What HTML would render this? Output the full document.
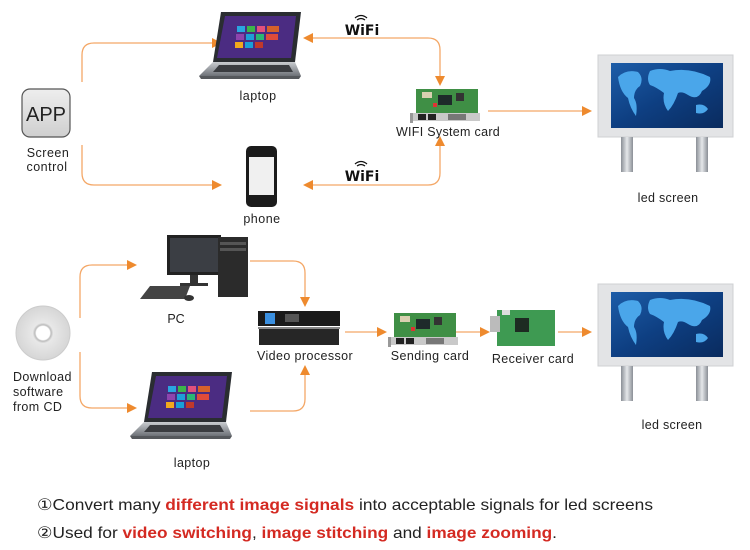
<!DOCTYPE html>
<html><head><meta charset="utf-8"><style>
html,body{margin:0;padding:0;background:#fff;}
svg{display:block;font-family:"Liberation Sans",Arial,sans-serif;}
</style></head><body>
<svg width="750" height="550" viewBox="0 0 750 550" xmlns="http://www.w3.org/2000/svg">
<defs>
<linearGradient id="scr" x1="0" y1="0" x2="1" y2="1"><stop offset="0" stop-color="#1d5da8"/><stop offset="0.5" stop-color="#0e3f82"/><stop offset="1" stop-color="#0a2b5e"/></linearGradient>
<linearGradient id="leg" x1="0" x2="1"><stop offset="0" stop-color="#8a8f96"/><stop offset="0.5" stop-color="#e5e7ea"/><stop offset="1" stop-color="#8a8f96"/></linearGradient>
<linearGradient id="app" x1="0" y1="0" x2="0" y2="1"><stop offset="0" stop-color="#eeeeee"/><stop offset="1" stop-color="#cfcfcf"/></linearGradient>
<linearGradient id="lap" x1="0" y1="0" x2="0" y2="1"><stop offset="0" stop-color="#c9ccd0"/><stop offset="1" stop-color="#6d7177"/></linearGradient>
<radialGradient id="cd"><stop offset="0.25" stop-color="#fff"/><stop offset="0.3" stop-color="#bbb"/><stop offset="0.38" stop-color="#e8e8e8"/><stop offset="1" stop-color="#d6d6d6"/></radialGradient>
<g id="ah"><path d="M0,-5 L10,0 L0,5Z" fill="#ee8a2e"/></g>
<g id="laptop">
 <path d="M22,0 L102,0 L96,50 L14,50Z" fill="#2a2d31"/>
 <path d="M26,4 L97,4 L92,46 L18,46Z" fill="#4b2c82"/>
 <rect x="38" y="14" width="8" height="6" fill="#2aa5e0"/><rect x="48" y="14" width="8" height="6" fill="#3cb54a"/><rect x="58" y="14" width="8" height="6" fill="#e2507c"/><rect x="68" y="14" width="12" height="6" fill="#d6612a"/>
 <rect x="37" y="22" width="8" height="6" fill="#8e44ad"/><rect x="47" y="22" width="8" height="6" fill="#1e9fd8"/><rect x="57" y="22" width="8" height="6" fill="#2bb673"/><rect x="67" y="22" width="12" height="6" fill="#e04b3a"/>
 <rect x="36" y="30" width="8" height="6" fill="#f2a81d"/><rect x="46" y="30" width="8" height="6" fill="#19a0d8"/><rect x="56" y="30" width="8" height="6" fill="#c0392b"/>
 <path d="M14,50 L96,50 L102,64 L0,64Z" fill="url(#lap)"/>
 <path d="M20,53 L90,53 L94,60 L14,60Z" fill="#3a3c40"/>
 <path d="M0,64 L102,64 L100,67 L2,67Z" fill="#55585c"/>
</g>
<g id="card">
 <rect x="8" y="0" width="62" height="24" fill="#3f8f45"/>
 <rect x="30" y="6" width="14" height="10" fill="#1e2a2a"/><rect x="48" y="4" width="8" height="8" fill="#333"/>
 <rect x="14" y="3" width="10" height="6" fill="#d9d0b0"/><rect x="25" y="14" width="4" height="4" fill="#d33"/>
 <rect x="4" y="24" width="68" height="8" fill="#c9c9c9"/>
 <rect x="10" y="25" width="8" height="6" fill="#222"/><rect x="20" y="25" width="8" height="6" fill="#222"/><rect x="40" y="25" width="18" height="6" fill="#777"/>
 <rect x="2" y="24" width="3" height="10" fill="#999"/>
</g>
<g id="led">
 <rect x="0" y="0" width="135" height="82" fill="#e3e4e6" stroke="#cfd0d3"/>
 <rect x="13" y="8" width="112" height="65" fill="url(#scr)"/>
 <path d="M20,22 q8,-8 20,-5 q6,6 2,14 q-6,4 -6,12 q4,6 2,18 q-6,-8 -8,-18 q-8,-6 -10,-21Z M52,16 q10,-4 20,0 q20,-4 40,6 q2,8 -8,14 q-4,10 -14,4 q-6,-4 -10,-2 q-4,12 -10,18 q-6,-8 -4,-18 q-8,-6 -14,-8 q-4,-6 0,-14Z M98,50 q8,-2 12,4 q-4,6 -12,4Z" fill="#4aa6ea"/>
 <rect x="23" y="82" width="12" height="35" fill="url(#leg)"/>
 <rect x="98" y="82" width="12" height="35" fill="url(#leg)"/>
</g>
</defs>

<g fill="none" stroke="#f4a868" stroke-width="1.3">
 <path d="M82,82 V55 Q82,43 94,43 H212"/>
 <path d="M82,145 V173 Q82,185 94,185 H212"/>
 <path d="M313,38 H428 Q440,38 440,50 V76"/>
 <path d="M313,185 H428 Q440,185 440,173 V146"/>
 <path d="M488,111 H582"/>
 <path d="M80,318 V277 Q80,265 92,265 H127"/>
 <path d="M80,352 V396 Q80,408 92,408 H127"/>
 <path d="M250,261 H293 Q305,261 305,273 V297"/>
 <path d="M250,411 H293 Q305,411 305,399 V375"/>
 <path d="M345,332 H377"/>
 <path d="M453,332 H480"/>
 <path d="M558,332 H582"/>
</g>
<use href="#ah" x="212" y="43"/>
<use href="#ah" x="212" y="185"/>
<use href="#ah" transform="translate(313,38) rotate(180)"/>
<use href="#ah" transform="translate(313,185) rotate(180)"/>
<use href="#ah" transform="translate(440,76) rotate(90)"/>
<use href="#ah" transform="translate(440,146) rotate(-90)"/>
<use href="#ah" x="582" y="111"/>
<use href="#ah" x="127" y="265"/>
<use href="#ah" x="127" y="408"/>
<use href="#ah" transform="translate(305,297) rotate(90)"/>
<use href="#ah" transform="translate(305,375) rotate(-90)"/>
<use href="#ah" x="377" y="332"/>
<use href="#ah" x="480" y="332"/>
<use href="#ah" x="582" y="332"/>

<!-- APP -->
<rect x="22" y="89" width="48" height="48" rx="8" fill="url(#app)" stroke="#555" stroke-width="1.2"/>
<text x="46" y="121" font-size="20" text-anchor="middle" fill="#222">APP</text>
<text x="48" y="157" font-size="12.5" text-anchor="middle" fill="#222" letter-spacing="0.5">Screen</text>
<text x="47" y="171" font-size="12.5" text-anchor="middle" fill="#222" letter-spacing="0.5">control</text>

<use href="#laptop" x="199" y="12"/>
<text x="258" y="100" font-size="12.5" text-anchor="middle" fill="#222" letter-spacing="0.5">laptop</text>

<!-- phone -->
<rect x="246" y="146" width="31" height="61" rx="5" fill="#1b1b1b"/>
<rect x="249" y="157" width="25" height="38" fill="#f0f0f0"/>
<text x="262" y="223" font-size="12.5" text-anchor="middle" fill="#222" letter-spacing="0.5">phone</text>

<!-- wifi -->
<g fill="#111">
<text x="362" y="35" font-size="14" font-weight="bold" text-anchor="middle" font-family="'DejaVu Sans',sans-serif">WiFi</text>
<text x="362" y="181" font-size="14" font-weight="bold" text-anchor="middle" font-family="'DejaVu Sans',sans-serif">WiFi</text>
</g>
<g fill="none" stroke="#111" stroke-width="1.3">
<path d="M355,18 q6,-5 12,0 M357,20 q4,-3 8,0"/>
<path d="M355,164 q6,-5 12,0 M357,166 q4,-3 8,0"/>
</g>

<use href="#card" x="408" y="89"/>
<text x="448" y="136" font-size="12.5" text-anchor="middle" fill="#222" letter-spacing="0.3">WIFI System card</text>

<use href="#led" x="598" y="55"/>
<text x="668" y="202" font-size="12.5" text-anchor="middle" fill="#222" letter-spacing="0.3">led screen</text>

<!-- CD -->
<circle cx="43" cy="333" r="27" fill="url(#cd)" stroke="#ccc"/>
<circle cx="43" cy="333" r="6" fill="#fff"/>
<text x="13" y="381" font-size="12.5" fill="#222" letter-spacing="0.4">Download</text>
<text x="13" y="396" font-size="12.5" fill="#222" letter-spacing="0.4">software</text>
<text x="13" y="411" font-size="12.5" fill="#222" letter-spacing="0.4">from CD</text>

<!-- PC -->
<rect x="167" y="235" width="54" height="40" fill="#222"/>
<rect x="170" y="238" width="48" height="34" fill="#3b3e44"/>
<rect x="190" y="275" width="8" height="8" fill="#333"/>
<rect x="180" y="283" width="28" height="3" fill="#333"/>
<rect x="218" y="237" width="30" height="60" fill="#2b2b2b"/>
<rect x="220" y="242" width="26" height="3" fill="#555"/><rect x="220" y="248" width="26" height="3" fill="#555"/>
<path d="M150,286 L190,286 L185,299 L140,299Z" fill="#444"/>
<ellipse cx="189" cy="298" rx="5" ry="3" fill="#333"/>
<text x="176" y="323" font-size="12.5" text-anchor="middle" fill="#222">PC</text>

<!-- video processor -->
<rect x="258" y="311" width="82" height="15" fill="#1a1a1a"/>
<rect x="265" y="313" width="10" height="11" fill="#3a8fe0"/>
<rect x="285" y="314" width="14" height="8" fill="#555"/>
<rect x="258" y="327" width="82" height="2" fill="#888"/>
<rect x="259" y="329" width="80" height="16" fill="#262626"/>
<text x="305" y="360" font-size="12.5" text-anchor="middle" fill="#222" letter-spacing="0.4">Video processor</text>

<use href="#laptop" x="130" y="372"/>
<text x="192" y="467" font-size="12.5" text-anchor="middle" fill="#222" letter-spacing="0.4">laptop</text>

<use href="#card" x="386" y="313"/>
<text x="430" y="360" font-size="12.5" text-anchor="middle" fill="#222" letter-spacing="0.4">Sending card</text>

<!-- receiver card -->
<rect x="497" y="310" width="58" height="36" fill="#3e9a52"/>
<rect x="490" y="316" width="10" height="16" fill="#bbb"/>
<rect x="515" y="318" width="14" height="14" fill="#1d2b22"/>
<rect x="502" y="310" width="8" height="5" fill="#ddd"/>
<text x="533" y="363" font-size="12.5" text-anchor="middle" fill="#222" letter-spacing="0.4">Receiver card</text>

<use href="#led" x="598" y="284"/>
<text x="672" y="429" font-size="12.5" text-anchor="middle" fill="#222" letter-spacing="0.3">led screen</text>

<text x="37" y="510" font-size="16" fill="#222" textLength="616" lengthAdjust="spacingAndGlyphs">①Convert many <tspan fill="#d42a22" font-weight="bold">different image signals</tspan> into acceptable signals for led screens</text>
<text x="37" y="538" font-size="16" fill="#222" textLength="520" lengthAdjust="spacingAndGlyphs">②Used for <tspan fill="#d42a22" font-weight="bold">video switching</tspan>, <tspan fill="#d42a22" font-weight="bold">image stitching</tspan> and <tspan fill="#d42a22" font-weight="bold">image zooming</tspan>.</text>
</svg>
</body></html>
